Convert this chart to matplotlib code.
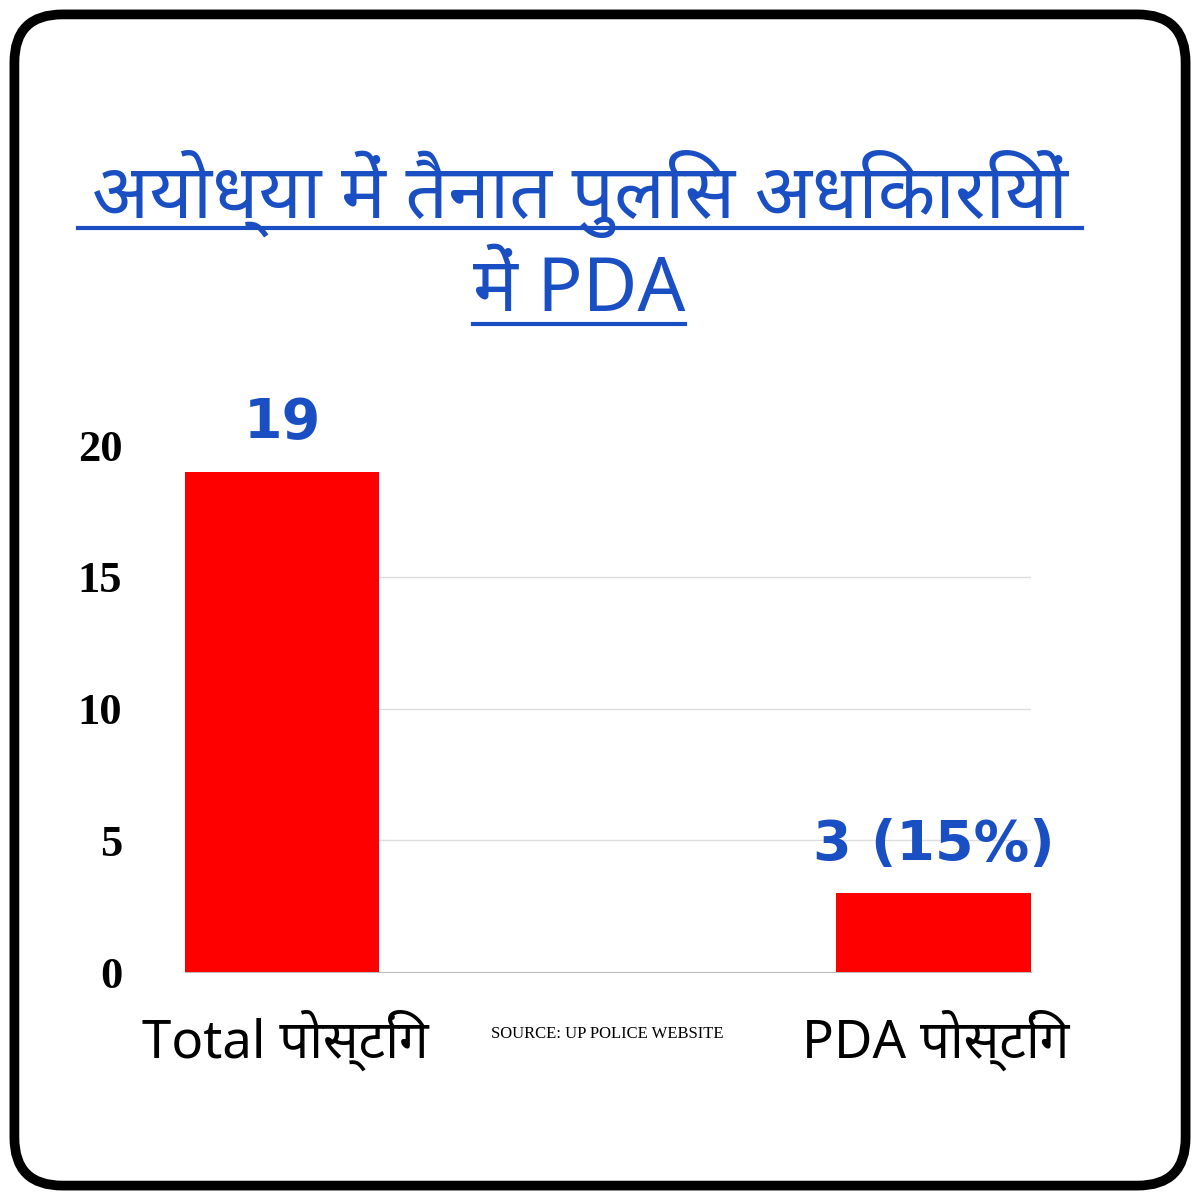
import matplotlib
matplotlib.use("Agg")
import matplotlib.pyplot as plt
from matplotlib.patches import FancyBboxPatch

categories = ["Total पोस्टिंग", "PDA पोस्टिंग"]
values = [19, 3]
value_labels = ["19", "3 (15%)"]
yticks = [0, 5, 10, 15, 20]
title_lines = ["अयोध्या में तैनात पुलिस अधिकारियों", "में PDA"]
source = "SOURCE: UP POLICE WEBSITE"

plt.rcParams['font.family'] = ['Noto Sans', 'DejaVu Sans']
fig = plt.figure(figsize=(12, 12), dpi=100)
fig.patch.set_facecolor("white")
frame = FancyBboxPatch((0.012, 0.012), 0.976, 0.976, boxstyle="round,pad=0,rounding_size=0.04",
                       transform=fig.transFigure, fill=False, lw=7, ec="black")
fig.patches.append(frame)

ax = fig.add_axes([0.154, 0.19, 0.705, 0.439])
w = 0.2986
ax.bar(range(len(values)), values, width=w, color="#ff0000", zorder=3)
ax.set_xlim(-w / 2, 1 + w / 2)
ax.set_ylim(0, 20)
ax.set_yticks(yticks)
ax.set_yticklabels([str(t) for t in yticks], fontsize=32, fontweight="bold", family=['Liberation Serif'])
ax.tick_params(axis="y", length=0, pad=45)
ax.set_xticks([])
for s in ["top", "right", "left"]:
    ax.spines[s].set_visible(False)
ax.spines["bottom"].set_color("#bbbbbb")
for t in yticks[1:-1]:
    ax.axhline(t, color="#dddddd", lw=1, zorder=1)
blue = "#1a4fc4"
for i, (v, lab) in enumerate(zip(values, value_labels)):
    ax.text(i, v + 0.8, lab, ha="center", va="bottom", fontsize=40, fontweight="bold", color=blue,
            family=['DejaVu Sans'])
xs = [0.238, 0.78]
for x, c in zip(xs, categories):
    fig.text(x, 0.133, c, ha="center", va="center", fontsize=38, fontweight="bold")
fig.text(0.506, 0.138, source, ha="center", va="center", fontsize=12, family=['Liberation Serif'])
fig.text(0.483, 0.838, title_lines[0], ha="center", va="center", fontsize=54, fontweight="bold", color=blue)
fig.text(0.483, 0.757, title_lines[1], ha="center", va="center", fontsize=54, fontweight="bold", color=blue)
fig.add_artist(plt.Line2D([0.065, 0.902], [0.81, 0.81], color=blue, lw=3))
fig.add_artist(plt.Line2D([0.394, 0.571], [0.73, 0.73], color=blue, lw=3))
fig.savefig("out.png", dpi=100)
